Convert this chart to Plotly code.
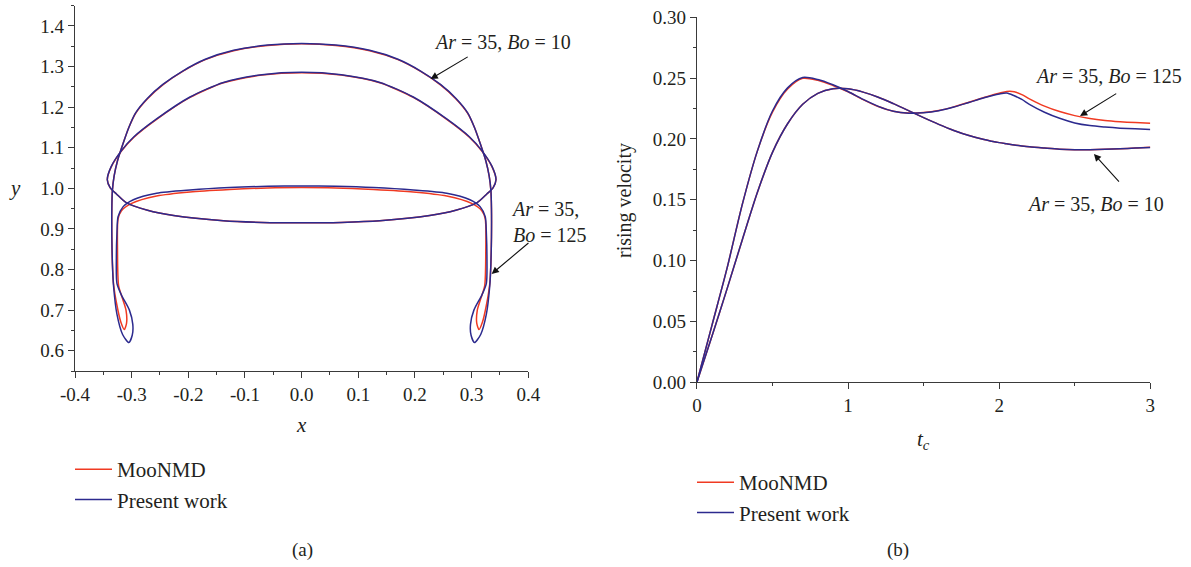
import plotly.graph_objects as go

# ---------------- Panel (a): bubble outlines (right halves, x >= 0; symmetric about x = 0) ----------------
# Ar = 35, Bo = 10 (spherical-cap like shape)
bo10_red_x = [0.000, 0.070, 0.138, 0.197, 0.256, 0.296, 0.318, 0.336, 0.343, 0.338, 0.326, 0.309, 0.272, 0.226, 0.138, 0.070, 0.000]
bo10_red_y = [1.285, 1.279, 1.260, 1.224, 1.170, 1.126, 1.092, 1.053, 1.021, 1.002, 0.985, 0.964, 0.946, 0.933, 0.920, 0.916, 0.915]
bo10_blue_x = [0.000, 0.070, 0.138, 0.197, 0.256, 0.296, 0.318, 0.336, 0.343, 0.338, 0.326, 0.309, 0.272, 0.226, 0.138, 0.070, 0.000]
bo10_blue_y = [1.286, 1.280, 1.261, 1.225, 1.171, 1.127, 1.093, 1.054, 1.021, 1.002, 0.985, 0.964, 0.946, 0.933, 0.920, 0.916, 0.915]

# Ar = 35, Bo = 125 (skirted bubble)
bo125_red_x = [0.000, 0.060, 0.120, 0.170, 0.210, 0.245, 0.272, 0.293, 0.305, 0.315, 0.325, 0.331, 0.334, 0.335, 0.335, 0.334,
               0.332, 0.326, 0.319, 0.313, 0.309, 0.310, 0.316, 0.323, 0.325, 0.324, 0.318, 0.300, 0.256, 0.197, 0.127,
               0.060, 0.000]
bo125_red_y = [1.356, 1.352, 1.339, 1.317, 1.288, 1.255, 1.221, 1.185, 1.150, 1.111, 1.068, 1.030, 0.995, 0.950, 0.880, 0.815,
               0.765, 0.712, 0.670, 0.652, 0.668, 0.700, 0.728, 0.760, 0.850, 0.925, 0.945, 0.963, 0.981, 0.991, 0.997,
               1.001, 1.002]
bo125_blue_x = [0.000, 0.060, 0.120, 0.170, 0.210, 0.245, 0.272, 0.293, 0.305, 0.315, 0.325, 0.331, 0.334, 0.335, 0.335, 0.334,
                0.332, 0.326, 0.316, 0.305, 0.299, 0.298, 0.304, 0.318, 0.326, 0.327, 0.326, 0.324, 0.315, 0.297, 0.256,
                0.197, 0.127, 0.060, 0.000]
bo125_blue_y = [1.357, 1.353, 1.340, 1.318, 1.289, 1.256, 1.222, 1.186, 1.150, 1.111, 1.068, 1.030, 0.995, 0.950, 0.880, 0.815,
                0.760, 0.690, 0.640, 0.620, 0.638, 0.665, 0.700, 0.737, 0.766, 0.830, 0.889, 0.930, 0.955, 0.972, 0.988,
                0.996, 1.002, 1.005, 1.006]

x_ticks_a = [-0.4, -0.3, -0.2, -0.1, 0.0, 0.1, 0.2, 0.3, 0.4]
x_ticklabels_a = ["-0.4", "-0.3", "-0.2", "-0.1", "0.0", "0.1", "0.2", "0.3", "0.4"]
y_ticks_a = [0.6, 0.7, 0.8, 0.9, 1.0, 1.1, 1.2, 1.3, 1.4]
y_ticklabels_a = ["0.6", "0.7", "0.8", "0.9", "1.0", "1.1", "1.2", "1.3", "1.4"]

# ---------------- Panel (b): rising velocity vs t_c ----------------
t_c = [0.0, 0.1, 0.2, 0.3, 0.4, 0.5, 0.6, 0.7, 0.8, 0.9, 1.0, 1.1, 1.2, 1.3, 1.4, 1.5, 1.6, 1.7, 1.8, 1.9, 1.95,
       2.0, 2.05, 2.1, 2.15, 2.2, 2.3, 2.4, 2.5, 2.6, 2.7, 2.8, 2.9, 3.0]
vel_bo125_red = [0.000, 0.047, 0.094, 0.146, 0.190, 0.222, 0.241, 0.2498, 0.2482, 0.2440, 0.2388, 0.2324, 0.2267, 0.2228, 0.2213,
                 0.2217, 0.2234, 0.2264, 0.2302, 0.2341, 0.2360, 0.2376, 0.2390, 0.2388, 0.2365, 0.2330, 0.2270, 0.2225,
                 0.2192, 0.2168, 0.2152, 0.2142, 0.2135, 0.2130]
vel_bo125_blue = [0.000, 0.047, 0.094, 0.146, 0.190, 0.223, 0.242, 0.2505, 0.2488, 0.2445, 0.2390, 0.2325, 0.2268, 0.2228, 0.2212,
                  0.2215, 0.2232, 0.2262, 0.2300, 0.2338, 0.2355, 0.2370, 0.2378, 0.2355, 0.2325, 0.2285, 0.2220, 0.2170,
                  0.2132, 0.2110, 0.2098, 0.2089, 0.2083, 0.2078]
vel_bo10_red = [0.000, 0.038, 0.077, 0.117, 0.156, 0.189, 0.2125, 0.2285, 0.2375, 0.2413, 0.2412, 0.2385, 0.2343, 0.2290, 0.2233,
                0.2175, 0.2120, 0.2070, 0.2028, 0.1995, 0.1982, 0.1970, 0.1960, 0.1950, 0.1942, 0.1935, 0.1925, 0.1916,
                0.1912, 0.1912, 0.1915, 0.1920, 0.1925, 0.1932]
vel_bo10_blue = [0.000, 0.038, 0.077, 0.117, 0.156, 0.189, 0.2125, 0.2285, 0.2375, 0.2413, 0.2412, 0.2385, 0.2343, 0.2290, 0.2233,
                 0.2175, 0.2120, 0.2070, 0.2028, 0.1995, 0.1982, 0.1970, 0.1960, 0.1950, 0.1942, 0.1935, 0.1925, 0.1916,
                 0.1912, 0.1912, 0.1915, 0.1920, 0.1925, 0.1930]

x_ticks_b = [0, 1, 2, 3]
x_ticklabels_b = ["0", "1", "2", "3"]
y_ticks_b = [0.00, 0.05, 0.10, 0.15, 0.20, 0.25, 0.30]
y_ticklabels_b = ["0.00", "0.05", "0.10", "0.15", "0.20", "0.25", "0.30"]

RED = "#f03a22"
BLUE = "#2c2a8e"
AXC = "#3a3a3a"
TXT = "#231f20"
FONT = "Liberation Serif"


def closed(hx, hy):
    # mirror the right half about x = 0 to close the outline
    xs = list(hx) + [-v for v in reversed(hx[:-1])]
    ys = list(hy) + list(reversed(hy[:-1]))
    return xs, ys


fig = go.Figure()

# panel (a)
for hx, hy, col, name, show in [
    (bo10_red_x, bo10_red_y, RED, "MooNMD", True),
    (bo125_red_x, bo125_red_y, RED, "MooNMD", False),
    (bo10_blue_x, bo10_blue_y, BLUE, "Present work", True),
    (bo125_blue_x, bo125_blue_y, BLUE, "Present work", False),
]:
    xs, ys = closed(hx, hy)
    fig.add_trace(go.Scatter(x=xs, y=ys, mode="lines", name=name, showlegend=show, legend="legend",
                             line=dict(color=col, width=1.5, shape="spline", smoothing=0.7),
                             xaxis="x", yaxis="y"))

# panel (b)
for vy, col, name, show in [
    (vel_bo125_red, RED, "MooNMD", True),
    (vel_bo10_red, RED, "MooNMD", False),
    (vel_bo125_blue, BLUE, "Present work", True),
    (vel_bo10_blue, BLUE, "Present work", False),
]:
    fig.add_trace(go.Scatter(x=t_c, y=vy, mode="lines", name=name, showlegend=show, legend="legend2",
                             line=dict(color=col, width=1.5, shape="spline", smoothing=0.8),
                             xaxis="x2", yaxis="y2"))

W, H = 1191, 567
axis_common = dict(showline=True, linecolor=AXC, linewidth=1.3, ticks="outside", ticklen=6, tickwidth=1.2,
                   tickcolor=AXC, showgrid=False, zeroline=False, automargin=False,
                   tickfont=dict(family=FONT, size=19, color=TXT))

fig.update_layout(
    template="none",
    width=W, height=H, autosize=False,
    margin=dict(l=0, r=0, t=0, b=0, pad=0, autoexpand=False),
    paper_bgcolor="white", plot_bgcolor="white",
    font=dict(family=FONT, color=TXT),
    xaxis=dict(domain=[75 / W, 528.3 / W], range=[-0.4, 0.4], anchor="y",
               tickvals=x_ticks_a, ticktext=x_ticklabels_a,
               minor=dict(ticks="outside", ticklen=3, dtick=0.05, tick0=0, tickcolor=AXC),
               **axis_common),
    yaxis=dict(domain=[1 - 371 / H, 1 - 5.7 / H], range=[0.55, 1.45], anchor="x",
               tickvals=y_ticks_a, ticktext=y_ticklabels_a,
               minor=dict(ticks="outside", ticklen=3, dtick=0.05, tick0=0, tickcolor=AXC),
               **axis_common),
    xaxis2=dict(domain=[696.9 / W, 1150.3 / W], range=[0, 3], anchor="y2",
                tickvals=x_ticks_b, ticktext=x_ticklabels_b,
                minor=dict(ticks="outside", ticklen=3, dtick=0.5, tick0=0, tickcolor=AXC),
                **axis_common),
    yaxis2=dict(domain=[1 - 382.3 / H, 1 - 17.3 / H], range=[0, 0.30], anchor="x2",
                tickvals=y_ticks_b, ticktext=y_ticklabels_b,
                minor=dict(ticks="outside", ticklen=3, dtick=0.025, tick0=0, tickcolor=AXC),
                **axis_common),
    legend=dict(x=70 / W, y=1 - 449 / H, xanchor="left", yanchor="top", bgcolor="rgba(0,0,0,0)",
                font=dict(family=FONT, size=21, color=TXT), tracegroupgap=0, itemwidth=37),
    legend2=dict(x=692 / W, y=1 - 462 / H, xanchor="left", yanchor="top", bgcolor="rgba(0,0,0,0)",
                 font=dict(family=FONT, size=21, color=TXT), tracegroupgap=0, itemwidth=37),
)

ann_font = dict(family=FONT, size=20, color=TXT)


def label(text, px, py, size=20, **kw):
    return dict(text=text, x=px / W, y=1 - py / H, xref="paper", yref="paper", showarrow=False,
                xanchor="center", yanchor="middle", font=dict(family=FONT, size=size, color=TXT), **kw)


def arrow(x, y, xref, yref, ax, ay):
    return dict(text="", x=x, y=y, xref=xref, yref=yref, showarrow=True, ax=ax, ay=ay,
                arrowhead=2, arrowsize=1.3, arrowwidth=1.1, arrowcolor="#111")


annotations = [
    # axis titles
    label("<i>y</i>", 15, 188, size=21),
    label("<i>x</i>", 301.7, 425, size=21),
    label("rising velocity", 625, 201, size=20, textangle=-90),
    label("<i>t<sub>c</sub></i>", 923, 440, size=21),
    # captions
    label("(a)", 302, 550, size=19),
    label("(b)", 898, 550, size=19),
    # panel (a) labels
    label("<i>Ar</i> = 35, <i>Bo</i> = 10", 502.5, 41.7),
    label("<i>Ar</i> = 35,<br><i>Bo</i> = 125", 549, 222, align="left"),
    arrow(0.2276, 1.2694, "x", "y", 38.6, -23),
    arrow(0.3353, 0.789, "x", "y", 38.3, -32.3),
    # panel (b) labels
    label("<i>Ar</i> = 35, <i>Bo</i> = 125", 1108, 76),
    label("<i>Ar</i> = 35, <i>Bo</i> = 10", 1095, 204),
    arrow(2.535, 0.2189, "x2", "y2", 37.7, -23.3),
    arrow(2.627, 0.1877, "x2", "y2", 26.4, 29.3),
]
fig.update_layout(annotations=annotations)

fig.write_html("out.html")
